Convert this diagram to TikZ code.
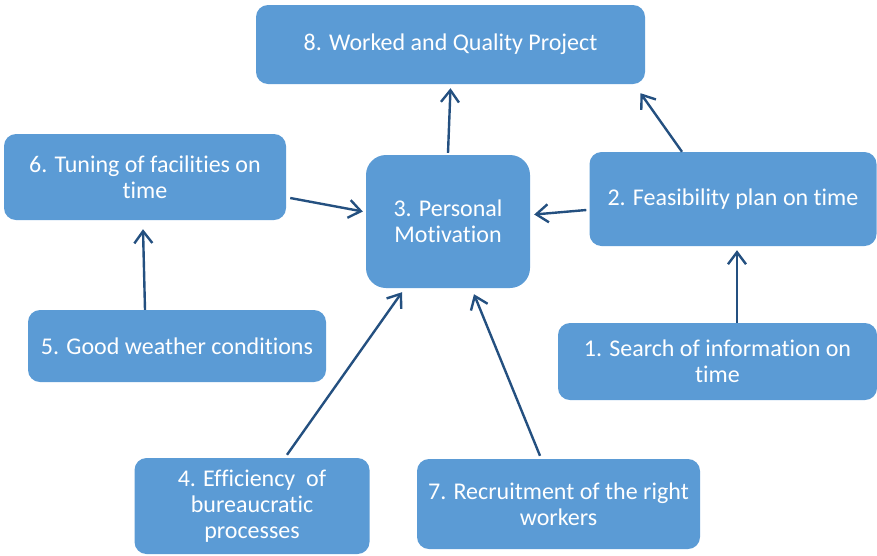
\documentclass[tikz,border=0pt]{standalone}
\usepackage{fontspec}
\setmainfont{Carlito}[Ligatures=NoCommon]
\usetikzlibrary{arrows.meta}
\definecolor{boxblue}{RGB}{91,155,213}
\definecolor{arrowblue}{RGB}{36,80,128}
\begin{document}
\begin{tikzpicture}[x=1pt,y=-1pt,
    box/.style={rectangle, rounded corners=12pt, fill=boxblue, text=white,
        align=center, inner sep=0pt, font=\fontsize{24}{26}\selectfont},
    arr/.style={draw=arrowblue, line width=2.4pt,
        -{Straight Barb[length=12pt,width=18pt,line width=2.4pt]}}]
    \useasboundingbox (0,0) rectangle (877,555);

    \node[box, minimum width=389pt, minimum height=79pt] (n8) at (450.5,44.5) {8. Worked and Quality Project};
    \node[box, minimum width=282pt, minimum height=86pt] (n6) at (145,177) {6. Tuning of facilities on\\time};
    \node[box, rounded corners=20pt, minimum width=164pt, minimum height=133pt] (n3) at (448,221.5) {3. Personal\\Motivation};
    \node[box, minimum width=287pt, minimum height=94pt] (n2) at (733,199) {2. Feasibility plan on time};
    \node[box, minimum width=298pt, minimum height=72pt] (n5) at (177,346) {5. Good weather conditions};
    \node[box, minimum width=319pt, minimum height=77pt] (n1) at (717.5,361.5) {1. Search of information on\\time};
    \node[box, minimum width=235pt, minimum height=96pt] (n4) at (252,506) {4. Efficiency~ of\\bureaucratic\\processes};
    \node[box, minimum width=283pt, minimum height=90pt] (n7) at (558.5,504) {7. Recruitment of the right\\workers};

    \draw[arr] ([yshift=2pt]n3.north) -- ([yshift=-4pt]n8.south);
    \draw[arr] ([xshift=-51pt]n2.north) -- ([xshift=190pt,yshift=-9pt]n8.south);
    \draw[arr] ([xshift=4pt,yshift=-21pt]n6.east) -- ([xshift=-3pt,yshift=10pt]n3.west);
    \draw[arr] ([xshift=-3pt,yshift=-11pt]n2.west) -- ([xshift=4pt,yshift=7pt]n3.east);
    \draw[arr] ([xshift=-32pt]n5.north) -- ([xshift=-2pt,yshift=-9pt]n6.south);
    \draw[arr] ([xshift=19.5pt]n1.north) -- ([xshift=4pt,yshift=-4pt]n2.south);
    \draw[arr] ([xshift=35pt,yshift=3pt]n4.north) -- ([xshift=-46pt,yshift=-4pt]n3.south);
    \draw[arr] ([xshift=-18.5pt,yshift=3pt]n7.north) -- ([xshift=26pt,yshift=-6pt]n3.south);
\end{tikzpicture}
\end{document}
